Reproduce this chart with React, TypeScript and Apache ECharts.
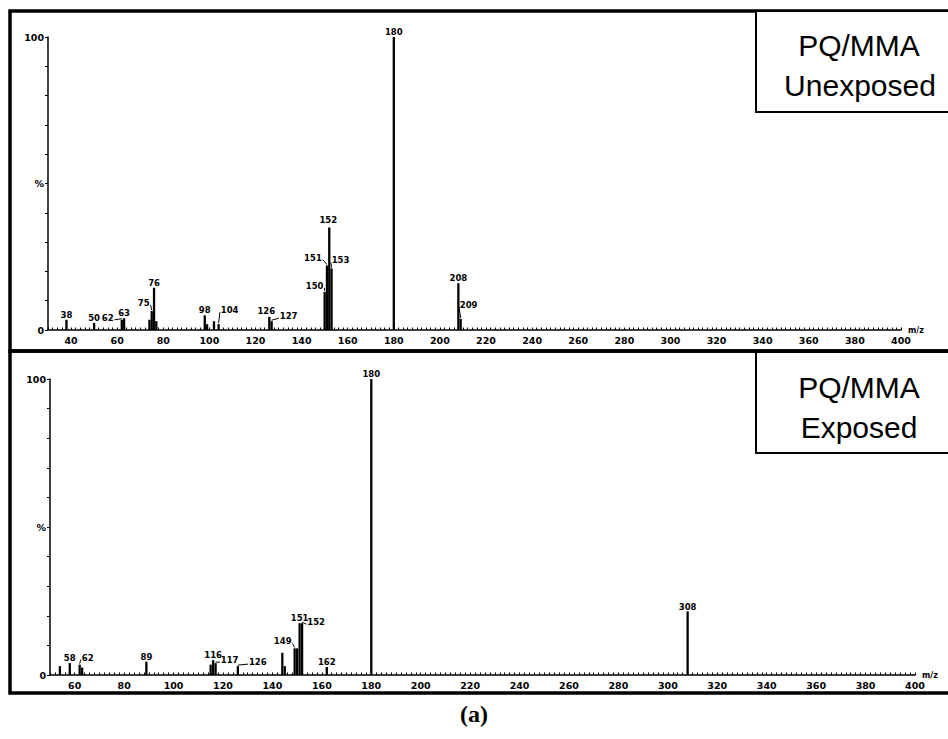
import React, { useEffect, useRef } from "react";
import * as echarts from "echarts";

// ---- Data: PQ/MMA Unexposed (top panel) ----
const unexposedMz = [38, 50, 62, 63, 74, 75, 76, 77, 98, 99, 102, 104, 126, 127, 150, 151, 152, 153, 180, 208, 209];
const unexposedPct = [3.5, 2.4, 3.5, 4, 3.5, 6.5, 14.4, 3, 5, 2, 3, 2, 4.5, 3, 13, 22, 35, 21, 100, 16, 3.8];
const unexposedLabels = [38, 50, 62, 63, 75, 76, 98, 104, 126, 127, 150, 151, 152, 153, 180, 208, 209];

// ---- Data: PQ/MMA Exposed (bottom panel) ----
const exposedMz = [54, 58, 62, 63, 89, 115, 116, 117, 126, 144, 145, 149, 150, 151, 152, 162, 180, 308];
const exposedPct = [3, 4, 3.5, 2.5, 4.5, 3.5, 5, 4, 3, 7.5, 3, 9, 9, 17.5, 17.5, 2.7, 100, 21.5];
const exposedLabels = [58, 62, 89, 116, 117, 126, 149, 151, 152, 162, 180, 308];

// ---- Axis tick labels ----
const topTickLabels = [40, 60, 80, 100, 120, 140, 160, 180, 200, 220, 240, 260, 280, 300, 320, 340, 360, 380, 400];
const bottomTickLabels = [60, 80, 100, 120, 140, 160, 180, 200, 220, 240, 260, 280, 300, 320, 340, 360, 380, 400];

// ---- Label placement (style: pixel offsets of label centre from peak top) ----
const topLabelOffsets: Record<number, [number, number]> = {
  62: [-14, -2], 75: [-8, -8], 104: [11, -14], 126: [-3, -6], 127: [17, -5],
  150: [-10, -6], 151: [-14, -8], 152: [-1, -7], 153: [9, -8], 209: [8, -14],
};
const bottomLabelOffsets: Record<number, [number, number]> = {
  62: [8, -7], 117: [14, -3], 126: [20, -4], 149: [-12, -7], 152: [14, -1], 308: [0, -4],
};

function minorTicks(min: number, max: number, step: number) {
  const out: number[] = [];
  for (let v = min; v <= max + 1e-9; v += step) out.push(v);
  return out;
}

const labelFont = 'bold 8.5px "DejaVu Sans"';

function makeLabelSeries(idx: number, mzList: number[], pctList: number[], labels: number[], offsets: Record<number, [number, number]>) {
  return {
    type: "custom",
    xAxisIndex: idx,
    yAxisIndex: idx,
    silent: true,
    clip: false,
    z: 5,
    data: labels.map((m) => [m, pctList[mzList.indexOf(m)]]),
    renderItem: (params: any, api: any) => {
      const m = api.value(0);
      const v = api.value(1);
      const pt = api.coord([m, v]);
      const px = pt[0];
      const py = pt[1];
      const off = offsets[m] || [0, -5];
      const lx = px + off[0];
      const ly = py + off[1];
      const text = String(m);
      const children: any[] = [
        {
          type: "text",
          x: lx,
          y: ly,
          style: { text, align: "center", verticalAlign: "middle", font: labelFont, fill: "#000" },
        },
      ];
      if (Math.abs(off[0]) > 4) {
        const hw = text.length * 2.9 + 1;
        const ex = off[0] > 0 ? lx - hw : lx + hw;
        const ey = ly + 2;
        children.push({
          type: "line",
          shape: { x1: px, y1: py - 1, x2: ex, y2: ey },
          style: { stroke: "#000", lineWidth: 1 },
        });
      }
      return { type: "group", children };
    },
  };
}

function xAxisCfg(idx: number, min: number, labels: number[]) {
  return {
    type: "value",
    gridIndex: idx,
    min,
    max: 400,
    name: "m/z",
    nameLocation: "end",
    nameGap: 7,
    nameTextStyle: { fontFamily: "DejaVu Sans", fontWeight: "bold", fontSize: 8, color: "#000", verticalAlign: "middle", padding: [0, 0, 6, 0] },
    splitLine: { show: false },
    axisLine: { show: true, onZero: false, lineStyle: { color: "#000", width: 1.5 } },
    axisTick: { show: true, inside: true, length: 2.5, customValues: minorTicks(Math.ceil(min / 2) * 2, 400, 2), lineStyle: { color: "#000", width: 1 } },
    axisLabel: {
      show: true,
      customValues: labels,
      color: "#000",
      fontFamily: "DejaVu Sans",
      fontWeight: "bold",
      fontSize: 9.5,
      margin: 5,
    },
  };
}

function yAxisCfg(idx: number) {
  return {
    type: "value",
    gridIndex: idx,
    min: 0,
    max: 100,
    interval: 10,
    splitLine: { show: false },
    axisLine: { show: true, lineStyle: { color: "#000", width: 1.5 } },
    axisTick: { show: true, length: 3, lineStyle: { color: "#000", width: 1 } },
    axisLabel: {
      color: "#000",
      fontFamily: "DejaVu Sans",
      fontWeight: "bold",
      fontSize: 9.5,
      margin: 4,
      formatter: (v: number) => (v === 0 ? "0" : v === 100 ? "100" : v === 50 ? "%" : ""),
    },
  };
}

export default function App() {
  const ref = useRef<HTMLDivElement>(null);
  useEffect(() => {
    if (!ref.current) return;
    const chart = echarts.init(ref.current, null, { renderer: "svg" });
    const option: any = {
      animation: false,
      backgroundColor: "#fff",
      grid: [
        { left: 48, right: 47, top: 37, height: 293 },
        { left: 50, right: 33, top: 379, height: 296 },
      ],
      xAxis: [xAxisCfg(0, 30, topTickLabels), xAxisCfg(1, 50, bottomTickLabels)],
      yAxis: [yAxisCfg(0), yAxisCfg(1)],
      series: [
        {
          type: "bar",
          xAxisIndex: 0,
          yAxisIndex: 0,
          barWidth: 2.3,
          itemStyle: { color: "#000" },
          data: unexposedMz.map((m, i) => [m, unexposedPct[i]]),
        },
        {
          type: "bar",
          xAxisIndex: 1,
          yAxisIndex: 1,
          barWidth: 2.3,
          itemStyle: { color: "#000" },
          data: exposedMz.map((m, i) => [m, exposedPct[i]]),
        },
        makeLabelSeries(0, unexposedMz, unexposedPct, unexposedLabels, topLabelOffsets),
        makeLabelSeries(1, exposedMz, exposedPct, exposedLabels, bottomLabelOffsets),
      ],
      graphic: [
        { type: "rect", shape: { x: 10, y: 11, width: 960, height: 340 }, style: { fill: "none", stroke: "#000", lineWidth: 3.5 }, silent: true },
        { type: "rect", shape: { x: 10, y: 351, width: 960, height: 342 }, style: { fill: "none", stroke: "#000", lineWidth: 3.5 }, silent: true },
        { type: "rect", shape: { x: 756, y: 11, width: 300, height: 101 }, style: { fill: "#fff", stroke: "#000", lineWidth: 2 }, silent: true },
        { type: "rect", shape: { x: 756, y: 352, width: 300, height: 101 }, style: { fill: "#fff", stroke: "#000", lineWidth: 2 }, silent: true },
        { type: "text", x: 859, y: 45, style: { text: "PQ/MMA", align: "center", verticalAlign: "middle", font: '30px "Liberation Sans"', fill: "#000" }, silent: true },
        { type: "text", x: 860, y: 85, style: { text: "Unexposed", align: "center", verticalAlign: "middle", font: '30px "Liberation Sans"', fill: "#000" }, silent: true },
        { type: "text", x: 859, y: 387, style: { text: "PQ/MMA", align: "center", verticalAlign: "middle", font: '30px "Liberation Sans"', fill: "#000" }, silent: true },
        { type: "text", x: 859, y: 427, style: { text: "Exposed", align: "center", verticalAlign: "middle", font: '30px "Liberation Sans"', fill: "#000" }, silent: true },
        { type: "text", x: 474, y: 714, style: { text: "(a)", align: "center", verticalAlign: "middle", font: 'bold 24px "Liberation Serif"', fill: "#000" }, silent: true },
      ],
    };
    chart.setOption(option);
    return () => chart.dispose();
  }, []);
  return (
    <div
      ref={ref}
      style={{ position: "fixed", left: 0, top: 0, width: 948, height: 739, background: "#fff" }}
    />
  );
}
